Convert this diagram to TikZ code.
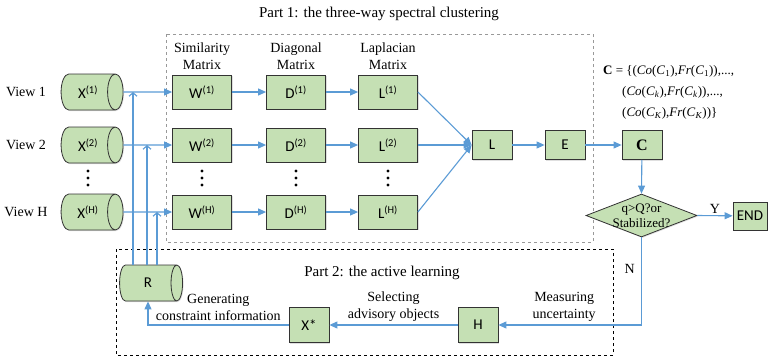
\documentclass[tikz,border=0pt]{standalone}
\usepackage{fontspec}
\setmainfont{Liberation Serif}
\newfontfamily\boxfont{Carlito}
\usetikzlibrary{shapes.geometric, arrows.meta, shadows, positioning}

\definecolor{boxgreen}{HTML}{C5E0B4}
\definecolor{flowblue}{HTML}{5B9BD5}
\newcommand{\sups}[1]{\textsuperscript{(#1)}}

\begin{document}
\begin{tikzpicture}[x=1pt, y=-1pt,
    every node/.style={font=\fontsize{14}{17}\selectfont},
    box/.style={draw=black!80, fill=boxgreen, line width=0.8pt, inner sep=0pt,
      minimum width=59pt, minimum height=34pt, font=\boxfont\fontsize{15}{17}\selectfont,
      drop shadow={shadow xshift=1pt, shadow yshift=-1pt, opacity=0.25}},
    small box/.style={box, minimum width=40pt, minimum height=29pt},
    cyl/.style={box, shape=cylinder, shape aspect=1.2, minimum width=36pt, minimum height=62pt},
    dec/.style={box, shape=diamond, minimum width=111pt, minimum height=43pt},
    dec text/.style={align=center, inner sep=0pt, font=\fontsize{13}{15}\selectfont},
    title/.style={font=\fontsize{15}{18}\selectfont},
    formula/.style={anchor=north west, align=left, inner sep=0pt, font=\fontsize{13}{21}\selectfont},
    arr/.style={draw=flowblue, line width=1.1pt, -{Triangle[length=8pt,width=7pt]}},
    barb/.style={draw=flowblue, line width=1.1pt, -{Straight Barb[length=3.5pt,width=8pt]}},
    part one/.style={draw=black!40, dashed, line width=0.6pt},
    part two/.style={draw=black, dashed, line width=0.7pt}]
  \useasboundingbox (0,0) rectangle (768,356);

  \draw[part one] (166,34) rectangle (593,242);
  \draw[part two] (116,249) rectangle (613,355);
  \node[title] (t1) at (379,14) {Part 1: the three-way spectral clustering};
  \node[title] (t2) at (382,273) {Part 2: the active learning};

  % views
  \node[cyl] (X1) at (88,92) {X\sups{1}};
  \node[cyl] (X2) at (88,145) {X\sups{2}};
  \node[cyl] (XH) at (88,212) {X\sups{H}};
  \node (v1) at (26,92) {View 1};
  \node (v2) at (26,145) {View 2};
  \node (vH) at (26,212) {View H};

  % part 1
  \node[box] (W1) at (202,92) {W\sups{1}};
  \node[box] (W2) at (202,145) {W\sups{2}};
  \node[box] (WH) at (202,212) {W\sups{H}};
  \node[box] (D1) at (296,92) {D\sups{1}};
  \node[box] (D2) at (296,145) {D\sups{2}};
  \node[box] (DH) at (296,212) {D\sups{H}};
  \node[box] (L1) at (388,92) {L\sups{1}};
  \node[box] (L2) at (388,145) {L\sups{2}};
  \node[box] (LH) at (388,212) {L\sups{H}};
  \foreach \x in {88,202,296,388}
    \foreach \y in {171,178,185}
      \fill (\x,\y) circle (1.6pt);
  \node[align=center] (wt) at (202,56) {Similarity\\Matrix};
  \node[align=center] (dt) at (296,56) {Diagonal\\Matrix};
  \node[align=center] (lt) at (388,56) {Laplacian\\Matrix};

  \node[small box] (L) at (492,145) {L};
  \node[small box] (E) at (565,145) {E};
  \node[small box, font=\bfseries\fontsize{16}{18}\selectfont] (C) at (642,145) {C};
  \node[formula] (cf) at (603,65) {\textbf{C} = \{(\textit{Co}(\textit{C}\textsubscript{1}),\textit{Fr}(\textit{C}\textsubscript{1})),...,\\
    \hspace*{19pt}(\textit{Co}(\textit{C}\textsubscript{\textit{k}}),\textit{Fr}(\textit{C}\textsubscript{\textit{k}})),...,\\
    \hspace*{19pt}(\textit{Co}(\textit{C}\textsubscript{\textit{K}}),\textit{Fr}(\textit{C}\textsubscript{\textit{K}}))\}};
  \node[dec, label={[dec text]center:{q>Q?or\\Stabilized?}}] (Dec) at (641.5,215.5) {};
  \node[box, minimum width=34pt, minimum height=28pt] (End) at (750,216) {END};

  % part 2
  \node[cyl, minimum height=63pt] (R) at (148,283) {R};
  \node[small box, minimum height=35pt] (Xs) at (309,325) {X*};
  \node[small box, minimum height=35pt] (H) at (478,325) {H};

  \draw[arr] (X1.east) -- (W1.west);
  \draw[arr] (X2.east) -- (W2.west);
  \draw[arr] (XH.east) -- (WH.west);
  \draw[arr] (W1) -- (D1);
  \draw[arr] (W2) -- (D2);
  \draw[arr] (WH) -- (DH);
  \draw[arr] (D1) -- (L1);
  \draw[arr] (D2) -- (L2);
  \draw[arr] (DH) -- (LH);
  \draw[arr] (L1.east) -- (L.west);
  \draw[arr] (L2.east) -- (L.west);
  \draw[arr] (LH.east) -- (L.west);
  \draw[arr] (L) -- (E);
  \draw[arr] (E) -- (C);
  \draw[arr] (C) -- (Dec.north);
  \draw[arr] (Dec.east) -- (End) node[midway, above=-2pt] (y) {Y};
  \draw[arr] (Dec.south) |- (H.east)
    node[pos=0.18, left=3pt] (n) {N}
    node[pos=0.77, above, align=center] (mu) {Measuring\\uncertainty};
  \draw[arr] (H) -- (Xs) node[midway, above, align=center] (sa) {Selecting\\advisory objects};
  \draw[arr] (Xs.west) -| (R.south) node[pos=0.25, above, align=center] (gc) {Generating\\constraint information};
  \draw[barb] ([xshift=-15pt]R.north) -- ([xshift=-15pt]R.north |- X1.east);
  \draw[barb] ([xshift=-1pt]R.north) -- ([xshift=-1pt]R.north |- X2.east);
  \draw[barb] ([xshift=9pt]R.north) -- ([xshift=9pt]R.north |- XH.east);
\end{tikzpicture}
\end{document}
